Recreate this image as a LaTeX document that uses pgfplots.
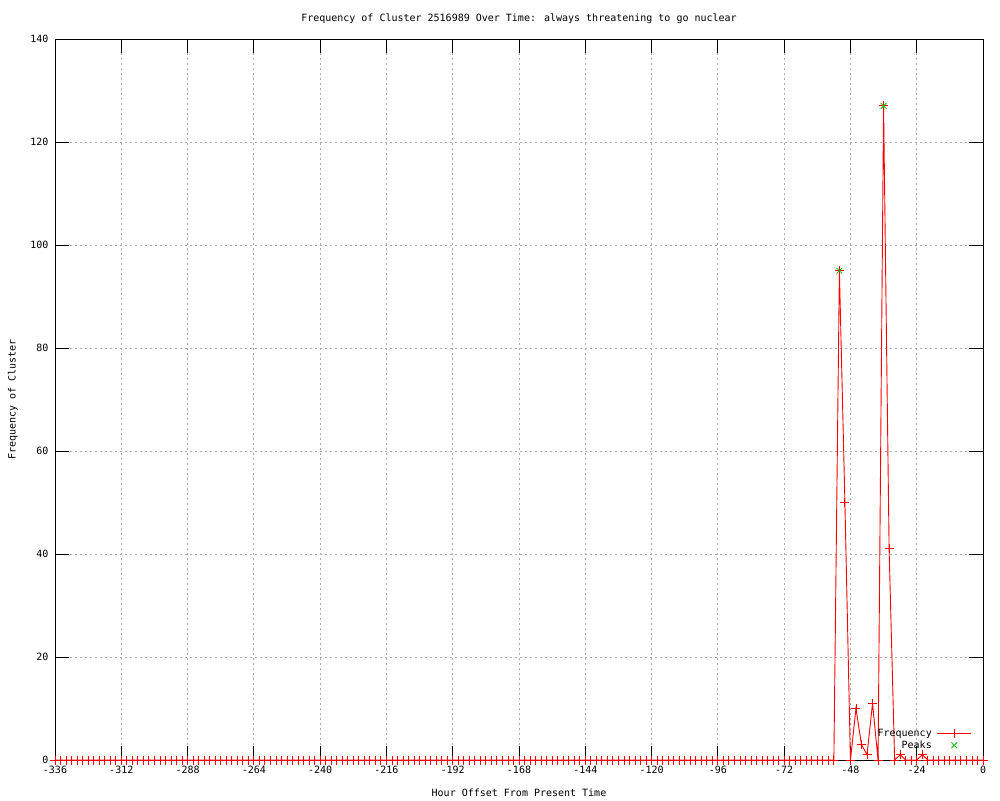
\documentclass[border=0pt]{standalone}
\usepackage{fontspec}
\setmainfont{DejaVu Sans Mono}
\usepackage{pgfplots}
\pgfplotsset{compat=1.18}
\definecolor{gpred}{RGB}{255,0,0}
\definecolor{gpgreen}{RGB}{0,192,0}
\begin{document}
\fontsize{10pt}{12pt}\selectfont
\begin{tikzpicture}
\path[use as bounding box] (-55pt,-40pt) rectangle (945pt,760pt);
\begin{axis}[
  at={(0,0)}, anchor=south west,
  scale only axis, width=928pt, height=721pt,
  xmin=-336, xmax=0, ymin=0, ymax=140,
  xtick={-336,-312,...,0}, ytick={0,20,...,140},
  tick align=inside, major tick length=14pt,
  xtick pos=both, ytick pos=both,
  tick style={black, line width=0.8pt},
  axis line style={black, line width=0.8pt},
  grid=major,
  major grid style={gray!65, line width=0.8pt, dash pattern=on 2pt off 3pt},
  /pgf/number format/assume math mode=true,
  scaled ticks=false,
  tick label style={font=\fontsize{10pt}{12pt}\selectfont},
  xticklabel style={yshift=-3pt},
  yticklabel style={xshift=-3pt},
  title={Frequency of Cluster 2516989 Over Time: always threatening to go nuclear},
  title style={at={(axis description cs:0.5,1)}, anchor=center, yshift=14pt, font=\fontsize{10pt}{12pt}\selectfont},
  xlabel={Hour Offset From Present Time},
  xlabel style={at={(axis description cs:0.5,0)}, anchor=center, yshift=-33pt, font=\fontsize{10pt}{12pt}\selectfont},
  ylabel={Frequency of Cluster},
  ylabel style={at={(axis description cs:-0.0453,0.5)}, anchor=center, font=\fontsize{10pt}{12pt}\selectfont},
  legend style={at={(axis description cs:0.988,0.011)}, anchor=south east, draw=none, fill=none, inner sep=0pt, row sep=-1.5pt, column sep=3pt, font=\fontsize{10pt}{12pt}\selectfont},
  legend cell align=right,
  legend plot pos=right,
  legend image code/.code={\draw[mark repeat=2,mark phase=2,#1] plot coordinates {(0pt,0pt) (17pt,0pt) (34pt,0pt)};},
]
\addplot[gpred, line width=0.9pt, mark=+, mark size=4.5pt, mark options={line width=0.9pt}] coordinates {
(-336,0) (-334,0) (-332,0) (-330,0) (-328,0) (-326,0) (-324,0) (-322,0) (-320,0) (-318,0)
(-316,0) (-314,0) (-312,0) (-310,0) (-308,0) (-306,0) (-304,0) (-302,0) (-300,0) (-298,0)
(-296,0) (-294,0) (-292,0) (-290,0) (-288,0) (-286,0) (-284,0) (-282,0) (-280,0) (-278,0)
(-276,0) (-274,0) (-272,0) (-270,0) (-268,0) (-266,0) (-264,0) (-262,0) (-260,0) (-258,0)
(-256,0) (-254,0) (-252,0) (-250,0) (-248,0) (-246,0) (-244,0) (-242,0) (-240,0) (-238,0)
(-236,0) (-234,0) (-232,0) (-230,0) (-228,0) (-226,0) (-224,0) (-222,0) (-220,0) (-218,0)
(-216,0) (-214,0) (-212,0) (-210,0) (-208,0) (-206,0) (-204,0) (-202,0) (-200,0) (-198,0)
(-196,0) (-194,0) (-192,0) (-190,0) (-188,0) (-186,0) (-184,0) (-182,0) (-180,0) (-178,0)
(-176,0) (-174,0) (-172,0) (-170,0) (-168,0) (-166,0) (-164,0) (-162,0) (-160,0) (-158,0)
(-156,0) (-154,0) (-152,0) (-150,0) (-148,0) (-146,0) (-144,0) (-142,0) (-140,0) (-138,0)
(-136,0) (-134,0) (-132,0) (-130,0) (-128,0) (-126,0) (-124,0) (-122,0) (-120,0) (-118,0)
(-116,0) (-114,0) (-112,0) (-110,0) (-108,0) (-106,0) (-104,0) (-102,0) (-100,0) (-98,0)
(-96,0) (-94,0) (-92,0) (-90,0) (-88,0) (-86,0) (-84,0) (-82,0) (-80,0) (-78,0)
(-76,0) (-74,0) (-72,0) (-70,0) (-68,0) (-66,0) (-64,0) (-62,0) (-60,0) (-58,0)
(-56,0) (-54,0) (-52,95) (-50,50) (-48,0) (-46,10) (-44,3) (-42,1) (-40,11) (-38,0)
(-36,127) (-34,41) (-32,0) (-30,1) (-28,0) (-26,0) (-24,0) (-22,1) (-20,0) (-18,0)
(-16,0) (-14,0) (-12,0) (-10,0) (-8,0) (-6,0) (-4,0) (-2,0) (0,0)
};
\addlegendentry{Frequency}
\addplot[gpgreen, only marks, mark=x, mark size=4pt, mark options={line width=0.8pt}] coordinates {
(-52,95) (-36,127)
};
\addlegendentry{Peaks}
\draw[black, line width=0.8pt] (rel axis cs:0,0) -- (rel axis cs:1,0);
\end{axis}
\end{tikzpicture}
\end{document}
